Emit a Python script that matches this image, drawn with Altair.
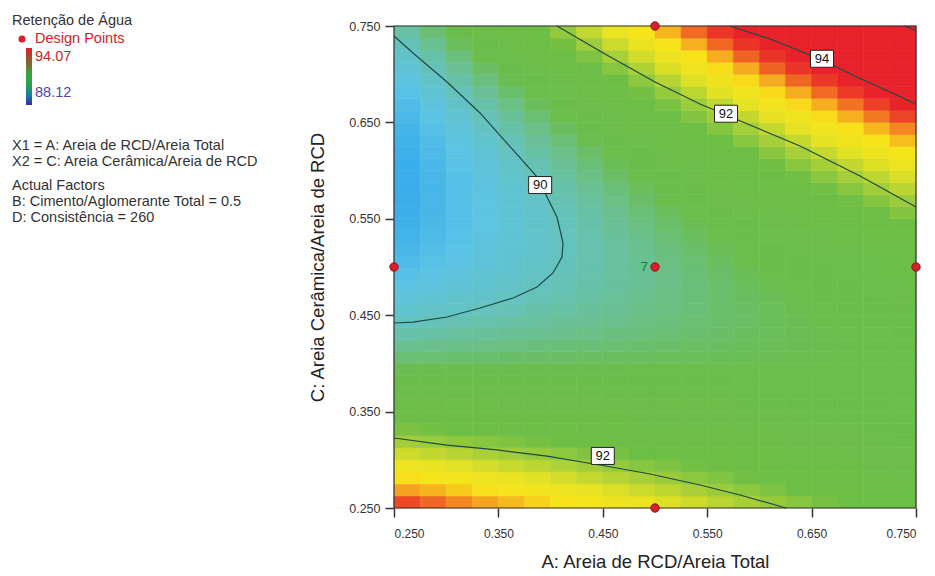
import altair as alt
import numpy as np
import pandas as pd

FONT = "Liberation Sans"

# Plot-area placement on the page (pixels)
LEFT, TOP, PLOT_W, PLOT_H = 394, 26, 522, 482
PAGE_W, PAGE_H = 935, 576

# ---------------------------------------------------------------------------
# Response surface: Retenção de Água over A (columns) and C (rows)
# ---------------------------------------------------------------------------
a_centres = [0.2625, 0.2875, 0.3125, 0.3375, 0.3625, 0.3875, 0.4125, 0.4375,
             0.4625, 0.4875, 0.5125, 0.5375, 0.5625, 0.5875, 0.6125, 0.6375,
             0.6625, 0.6875, 0.7125, 0.7375]

c_centres = [0.25625, 0.26875, 0.28125, 0.29375, 0.30625, 0.31875, 0.33125,
             0.34375, 0.35625, 0.36875, 0.38125, 0.39375, 0.40625, 0.41875,
             0.43125, 0.44375, 0.45625, 0.46875, 0.48125, 0.49375, 0.50625,
             0.51875, 0.53125, 0.54375, 0.55625, 0.56875, 0.58125, 0.59375,
             0.60625, 0.61875, 0.63125, 0.64375, 0.65625, 0.66875, 0.68125,
             0.69375, 0.70625, 0.71875, 0.73125, 0.74375]

# one row per C level (bottom to top), one value per A column (left to right)
retention = [
    [93.57, 93.45, 93.34, 93.23, 93.12, 93.00, 92.89, 92.78, 92.66, 92.55, 92.44, 92.33, 92.21, 92.10, 91.99, 91.88, 91.76, 91.65, 91.54, 91.43],
    [93.24, 93.14, 93.03, 92.93, 92.83, 92.73, 92.63, 92.52, 92.42, 92.32, 92.22, 92.12, 92.01, 91.91, 91.81, 91.71, 91.61, 91.50, 91.40, 91.30],
    [92.93, 92.83, 92.74, 92.65, 92.56, 92.47, 92.38, 92.28, 92.19, 92.10, 92.01, 91.92, 91.83, 91.73, 91.64, 91.55, 91.46, 91.37, 91.28, 91.18],
    [92.62, 92.54, 92.46, 92.38, 92.30, 92.22, 92.14, 92.06, 91.98, 91.89, 91.81, 91.73, 91.65, 91.57, 91.49, 91.41, 91.33, 91.24, 91.16, 91.08],
    [92.34, 92.27, 92.20, 92.12, 92.05, 91.98, 91.91, 91.84, 91.77, 91.70, 91.63, 91.56, 91.49, 91.42, 91.35, 91.28, 91.20, 91.13, 91.06, 90.99],
    [92.06, 92.00, 91.94, 91.88, 91.82, 91.76, 91.70, 91.64, 91.58, 91.52, 91.46, 91.40, 91.34, 91.28, 91.22, 91.16, 91.10, 91.04, 90.98, 90.92],
    [91.80, 91.75, 91.70, 91.65, 91.60, 91.55, 91.50, 91.45, 91.40, 91.35, 91.30, 91.25, 91.20, 91.15, 91.10, 91.05, 91.00, 90.95, 90.90, 90.85],
    [91.55, 91.51, 91.47, 91.43, 91.39, 91.35, 91.31, 91.27, 91.23, 91.19, 91.15, 91.11, 91.08, 91.04, 91.00, 90.96, 90.92, 90.88, 90.84, 90.80],
    [91.31, 91.28, 91.25, 91.22, 91.19, 91.17, 91.14, 91.11, 91.08, 91.05, 91.02, 90.99, 90.96, 90.93, 90.90, 90.88, 90.85, 90.82, 90.79, 90.76],
    [91.09, 91.07, 91.05, 91.03, 91.01, 90.99, 90.97, 90.96, 90.94, 90.92, 90.90, 90.88, 90.86, 90.85, 90.83, 90.81, 90.79, 90.77, 90.75, 90.73],
    [90.87, 90.87, 90.86, 90.85, 90.84, 90.83, 90.83, 90.82, 90.81, 90.80, 90.79, 90.78, 90.78, 90.77, 90.76, 90.75, 90.74, 90.74, 90.73, 90.72],
    [90.67, 90.68, 90.68, 90.68, 90.68, 90.69, 90.69, 90.69, 90.69, 90.70, 90.70, 90.70, 90.70, 90.70, 90.71, 90.71, 90.71, 90.71, 90.72, 90.72],
    [90.49, 90.50, 90.51, 90.52, 90.54, 90.55, 90.56, 90.58, 90.59, 90.60, 90.61, 90.63, 90.64, 90.65, 90.67, 90.68, 90.69, 90.70, 90.72, 90.73],
    [90.31, 90.34, 90.36, 90.38, 90.41, 90.43, 90.45, 90.47, 90.50, 90.52, 90.54, 90.57, 90.59, 90.61, 90.64, 90.66, 90.68, 90.71, 90.73, 90.75],
    [90.15, 90.18, 90.22, 90.25, 90.28, 90.32, 90.35, 90.39, 90.42, 90.45, 90.49, 90.52, 90.55, 90.59, 90.62, 90.66, 90.69, 90.72, 90.76, 90.79],
    [90.00, 90.04, 90.09, 90.13, 90.18, 90.22, 90.27, 90.31, 90.35, 90.40, 90.44, 90.49, 90.53, 90.57, 90.62, 90.66, 90.71, 90.75, 90.80, 90.84],
    [89.86, 89.92, 89.97, 90.03, 90.08, 90.14, 90.19, 90.25, 90.30, 90.36, 90.41, 90.46, 90.52, 90.57, 90.63, 90.68, 90.74, 90.79, 90.85, 90.90],
    [89.74, 89.80, 89.87, 89.93, 90.00, 90.06, 90.13, 90.19, 90.26, 90.33, 90.39, 90.46, 90.52, 90.59, 90.65, 90.72, 90.78, 90.85, 90.91, 90.98],
    [89.63, 89.70, 89.78, 89.85, 89.93, 90.01, 90.08, 90.16, 90.23, 90.31, 90.38, 90.46, 90.53, 90.61, 90.68, 90.76, 90.84, 90.91, 90.99, 91.06],
    [89.53, 89.61, 89.70, 89.79, 89.87, 89.96, 90.04, 90.13, 90.22, 90.30, 90.39, 90.47, 90.56, 90.65, 90.73, 90.82, 90.90, 90.99, 91.08, 91.16],
    [89.44, 89.54, 89.63, 89.73, 89.83, 89.92, 90.02, 90.12, 90.21, 90.31, 90.41, 90.50, 90.60, 90.70, 90.79, 90.89, 90.98, 91.08, 91.18, 91.27],
    [89.37, 89.48, 89.58, 89.69, 89.80, 89.90, 90.01, 90.12, 90.22, 90.33, 90.44, 90.54, 90.65, 90.76, 90.86, 90.97, 91.08, 91.19, 91.29, 91.40],
    [89.31, 89.42, 89.54, 89.66, 89.78, 89.89, 90.01, 90.13, 90.25, 90.36, 90.48, 90.60, 90.71, 90.83, 90.95, 91.07, 91.18, 91.30, 91.42, 91.54],
    [89.26, 89.39, 89.51, 89.64, 89.77, 89.90, 90.02, 90.15, 90.28, 90.41, 90.54, 90.66, 90.79, 90.92, 91.05, 91.17, 91.30, 91.43, 91.56, 91.69],
    [89.22, 89.36, 89.50, 89.64, 89.77, 89.91, 90.05, 90.19, 90.33, 90.47, 90.60, 90.74, 90.88, 91.02, 91.16, 91.30, 91.43, 91.57, 91.71, 91.85],
    [89.20, 89.35, 89.50, 89.64, 89.79, 89.94, 90.09, 90.24, 90.39, 90.54, 90.69, 90.83, 90.98, 91.13, 91.28, 91.43, 91.58, 91.73, 91.87, 92.02],
    [89.19, 89.35, 89.51, 89.67, 89.82, 89.98, 90.14, 90.30, 90.46, 90.62, 90.78, 90.94, 91.10, 91.26, 91.42, 91.57, 91.73, 91.89, 92.05, 92.21],
    [89.19, 89.36, 89.53, 89.70, 89.87, 90.04, 90.21, 90.38, 90.55, 90.72, 90.89, 91.06, 91.22, 91.39, 91.56, 91.73, 91.90, 92.07, 92.24, 92.41],
    [89.20, 89.38, 89.56, 89.74, 89.92, 90.10, 90.28, 90.46, 90.64, 90.82, 91.00, 91.18, 91.36, 91.54, 91.72, 91.90, 92.08, 92.26, 92.44, 92.62],
    [89.23, 89.42, 89.61, 89.80, 89.99, 90.18, 90.37, 90.56, 90.75, 90.94, 91.14, 91.33, 91.52, 91.71, 91.90, 92.09, 92.28, 92.47, 92.66, 92.85],
    [89.27, 89.47, 89.67, 89.87, 90.07, 90.27, 90.48, 90.68, 90.88, 91.08, 91.28, 91.48, 91.68, 91.88, 92.08, 92.28, 92.48, 92.69, 92.89, 93.09],
    [89.32, 89.53, 89.74, 89.96, 90.17, 90.38, 90.59, 90.80, 91.01, 91.22, 91.44, 91.65, 91.86, 92.07, 92.28, 92.49, 92.70, 92.92, 93.13, 93.34],
    [89.39, 89.61, 89.83, 90.05, 90.27, 90.50, 90.72, 90.94, 91.16, 91.38, 91.61, 91.83, 92.05, 92.27, 92.49, 92.71, 92.94, 93.16, 93.38, 93.60],
    [89.46, 89.70, 89.93, 90.16, 90.39, 90.63, 90.86, 91.09, 91.32, 91.55, 91.79, 92.02, 92.25, 92.48, 92.72, 92.95, 93.18, 93.41, 93.65, 93.88],
    [89.55, 89.80, 90.04, 90.28, 90.52, 90.77, 91.01, 91.25, 91.50, 91.74, 91.98, 92.22, 92.47, 92.71, 92.95, 93.19, 93.44, 93.68, 93.92, 94.17],
    [89.66, 89.91, 90.16, 90.42, 90.67, 90.92, 91.18, 91.43, 91.68, 91.93, 92.19, 92.44, 92.69, 92.95, 93.20, 93.45, 93.71, 93.96, 94.21, 94.47],
    [89.77, 90.04, 90.30, 90.56, 90.83, 91.09, 91.35, 91.62, 91.88, 92.14, 92.41, 92.67, 92.94, 93.20, 93.46, 93.73, 93.99, 94.25, 94.52, 94.78],
    [89.90, 90.17, 90.45, 90.72, 91.00, 91.27, 91.54, 91.82, 92.09, 92.37, 92.64, 92.91, 93.19, 93.46, 93.74, 94.01, 94.28, 94.56, 94.83, 95.11],
    [90.04, 90.32, 90.61, 90.89, 91.18, 91.46, 91.75, 92.03, 92.32, 92.60, 92.88, 93.17, 93.45, 93.74, 94.02, 94.31, 94.59, 94.88, 95.16, 95.45],
    [90.19, 90.49, 90.78, 91.08, 91.37, 91.67, 91.96, 92.26, 92.55, 92.85, 93.14, 93.44, 93.73, 94.03, 94.32, 94.62, 94.91, 95.21, 95.50, 95.80],
]

# Contour lines (A, C pairs traced along each level)
contour_90_A = [0.250, 0.2682, 0.3008, 0.3324, 0.3640, 0.3870, 0.3966, 0.4061, 0.4119,
                0.4109, 0.4023, 0.3870, 0.3640, 0.3324, 0.3008, 0.2682, 0.250]
contour_90_C = [0.7396, 0.7220, 0.6919, 0.6598, 0.6214, 0.5934, 0.5726, 0.5519, 0.5249,
                0.5104, 0.4938, 0.4793, 0.4678, 0.4575, 0.4481, 0.4429, 0.4419]
contour_92_top_A = [0.4061, 0.4521, 0.500, 0.5431, 0.5910, 0.6389, 0.6964, 0.750]
contour_92_top_C = [0.750, 0.7210, 0.6919, 0.6691, 0.6473, 0.6255, 0.5944, 0.5622]
contour_94_A = [0.5718, 0.6130, 0.6600, 0.6935, 0.7251, 0.750]
contour_94_C = [0.750, 0.7355, 0.7147, 0.6971, 0.6815, 0.6691]
contour_96_A = [0.739, 0.750]
contour_96_C = [0.750, 0.7456]
contour_92_low_A = [0.250, 0.3008, 0.3487, 0.3966, 0.4473, 0.4952, 0.5431, 0.5814, 0.6255]
contour_92_low_C = [0.3226, 0.3153, 0.3102, 0.3039, 0.2946, 0.2853, 0.2739, 0.2635, 0.250]

# Contour level labels
label_A = [0.390, 0.568, 0.660, 0.450]
label_C = [0.585, 0.659, 0.716, 0.304]
label_text = ["90", "92", "94", "92"]

# Design points
design_A = [0.50, 0.25, 0.50, 0.75, 0.50]
design_C = [0.75, 0.50, 0.50, 0.50, 0.25]
centre_replicates = "7"

# Colour ramp of the response
ramp_values = [88.12, 88.8, 89.2, 89.6, 90.0, 90.35, 90.7, 91.7, 92.1, 92.5, 92.9, 93.25, 93.55, 93.9]
ramp_colours = ["#2a52be", "#3586dc", "#3aaeea", "#5cc4e6", "#64c2c0", "#6ac08c", "#6bbd4c",
                "#6dbe45", "#a8cf38", "#e8e322", "#f8e41a", "#f5a020", "#ed4a24", "#e8222a"]
resp_min, resp_max = "88.12", "94.07"

# ---------------------------------------------------------------------------
half_a = np.diff(a_centres).mean() / 2
half_c = np.diff(c_centres).mean() / 2
cells = pd.DataFrame([
    {"A0": a - half_a, "A1": a + half_a, "C0": c - half_c, "C1": c + half_c, "R": retention[j][k]}
    for j, c in enumerate(c_centres) for k, a in enumerate(a_centres)
])

contours = []
for name, xs, ys in [("90", contour_90_A, contour_90_C), ("92t", contour_92_top_A, contour_92_top_C),
                     ("94", contour_94_A, contour_94_C), ("96", contour_96_A, contour_96_C),
                     ("92b", contour_92_low_A, contour_92_low_C)]:
    for i, (x, y) in enumerate(zip(xs, ys)):
        contours.append({"level": name, "i": i, "A": x, "C": y})
contours = pd.DataFrame(contours)

labels = pd.DataFrame({"A": label_A, "C": label_C, "t": label_text})
box_dA = 11.5 / PLOT_W * 0.5
box_dC = 8.5 / PLOT_H * 0.5
labels["A0"] = labels["A"] - box_dA
labels["A1"] = labels["A"] + box_dA
labels["C0"] = labels["C"] - box_dC
labels["C1"] = labels["C"] + box_dC

design = pd.DataFrame({"A": design_A, "C": design_C})

ticks = [0.25, 0.35, 0.45, 0.55, 0.65, 0.75]
xscale = alt.Scale(domain=[0.25, 0.75], nice=False, zero=False)
yscale = alt.Scale(domain=[0.25, 0.75], nice=False, zero=False)
cscale = alt.Scale(domain=ramp_values, range=ramp_colours, clamp=True, interpolate="rgb")

axis_common = dict(values=ticks, format=".3f", grid=False, domain=False,
                   tickSize=9, tickWidth=1.5, tickColor="#333333",
                   labelFont=FONT, labelColor="#333333",
                   titleFont=FONT, titleFontSize=18.5, titleFontWeight="normal",
                   titleColor="#222222")

heat = alt.Chart(cells).mark_rect(strokeWidth=0.6).encode(
    x=alt.X("A0:Q", scale=xscale,
            axis=alt.Axis(title="A: Areia de RCD/Areia Total", labelPadding=11,
                          labelFontSize=12, titlePadding=13, **axis_common)),
    x2="A1:Q",
    y=alt.Y("C0:Q", scale=yscale,
            axis=alt.Axis(title="C: Areia Cerâmica/Areia de RCD", labelPadding=5,
                          labelFontSize=12.5, titlePadding=21, **axis_common)),
    y2="C1:Q",
    color=alt.Color("R:Q", scale=cscale, legend=None),
    stroke=alt.Stroke("R:Q", scale=cscale, legend=None),
)

lines = alt.Chart(contours).mark_line(color="#1d4a42", strokeWidth=1.2).encode(
    x="A:Q", y="C:Q", detail="level:N", order="i:Q")

frame = alt.Chart(alt.Data(values=[{}])).mark_rect(
    fill=None, stroke="#333333", strokeWidth=1.2).encode(
    x=alt.value(0), x2=alt.value(PLOT_W), y=alt.value(0), y2=alt.value(PLOT_H))

boxes = alt.Chart(labels).mark_rect(fill="white", stroke="#222222", strokeWidth=1).encode(
    x="A0:Q", x2="A1:Q", y="C0:Q", y2="C1:Q")
box_text = alt.Chart(labels).mark_text(font=FONT, fontSize=13, color="#111111",
                                       baseline="middle").encode(
    x="A:Q", y="C:Q", text="t:N")

points = alt.Chart(design).mark_point(filled=True, size=70, fill="#d9202a",
                                      stroke="#8e1218", strokeWidth=1, opacity=1).encode(
    x="A:Q", y="C:Q")
centre_label = alt.Chart(design.iloc[[2]]).mark_text(
    text=centre_replicates, font=FONT, fontSize=13.5, color="#12803e",
    align="right", baseline="middle", dx=-7).encode(x="A:Q", y="C:Q")


def page_text(text, x, y, size=14.5, color="#333333"):
    return alt.Chart(alt.Data(values=[{}])).mark_text(
        text=text, font=FONT, fontSize=size, color=color, align="left",
        baseline="middle").encode(x=alt.value(x - LEFT), y=alt.value(y - TOP))


legend_bar = alt.Chart(alt.Data(values=[{}])).mark_rect(
    fill=alt.Gradient(gradient="linear", x1=0, x2=0, y1=0, y2=1, stops=[
        alt.GradientStop(color="#e02024", offset=0),
        alt.GradientStop(color="#8a6030", offset=0.25),
        alt.GradientStop(color="#3aa63c", offset=0.45),
        alt.GradientStop(color="#2aa04c", offset=0.65),
        alt.GradientStop(color="#1a7ea6", offset=0.83),
        alt.GradientStop(color="#2b2ca8", offset=1),
    ])).encode(x=alt.value(26 - LEFT), x2=alt.value(32 - LEFT),
               y=alt.value(48 - TOP), y2=alt.value(105 - TOP))

legend_dot = alt.Chart(alt.Data(values=[{}])).mark_point(
    filled=True, size=50, fill="#d9202a", opacity=1).encode(
    x=alt.value(22 - LEFT), y=alt.value(39 - TOP))

side = [
    page_text("Retenção de Água", 12, 21),
    page_text("Design Points", 35, 39, color="#d8202a"),
    page_text(resp_max, 35, 57, color="#cc2a2a"),
    page_text(resp_min, 35, 93, color="#4a48b0"),
    page_text("X1 = A: Areia de RCD/Areia Total", 12, 146),
    page_text("X2 = C: Areia Cerâmica/Areia de RCD", 12, 162),
    page_text("Actual Factors", 12, 186),
    page_text("B: Cimento/Aglomerante Total = 0.5", 12, 202),
    page_text("D: Consistência = 260", 12, 218),
]

chart = alt.layer(
    heat, lines, frame, boxes, box_text, points, centre_label,
    legend_bar, legend_dot, *side
).properties(
    width=PLOT_W, height=PLOT_H,
    autosize=alt.AutoSizeParams(type="none"),
    padding={"left": LEFT, "top": TOP, "right": PAGE_W - LEFT - PLOT_W,
             "bottom": PAGE_H - TOP - PLOT_H},
    background="white",
).configure_view(stroke=None)

chart.save("out.html", embed_options={"renderer": "svg", "actions": False})
